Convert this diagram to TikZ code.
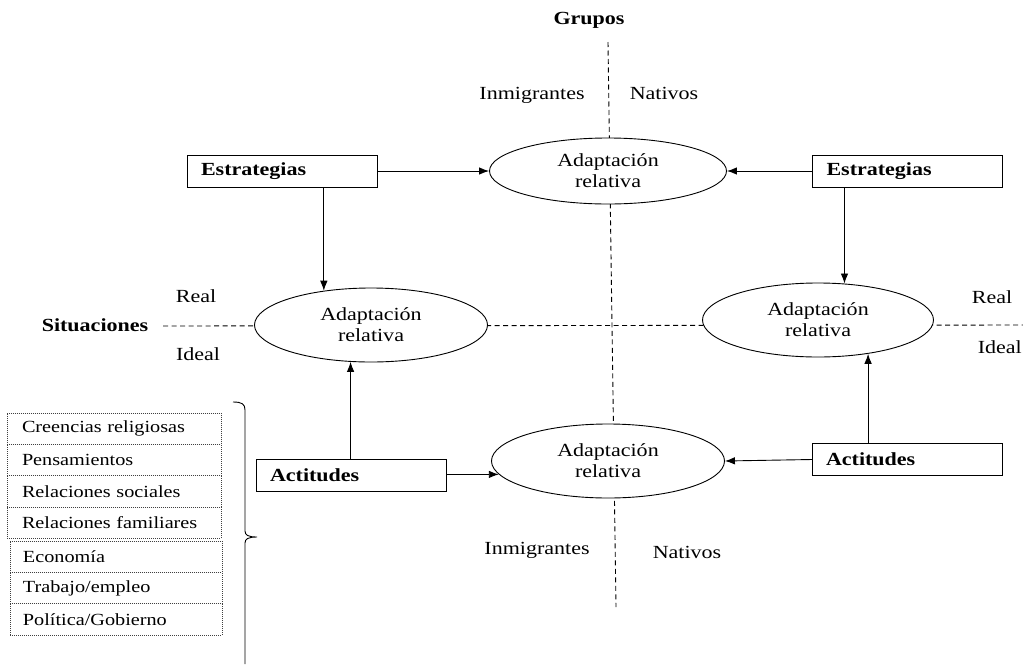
\documentclass[tikz,border=0pt]{standalone}
\usepackage{fontspec}
\setmainfont{Liberation Serif}[FakeStretch=1.19]
\usetikzlibrary{shapes.geometric,arrows.meta}
\begin{document}
\begin{tikzpicture}[x=1pt,y=-1pt,
  every node/.style={font=\fontsize{18.5}{21}\selectfont},
  lbl/.style={inner sep=0pt},
  head/.style={inner sep=0pt,font=\fontsize{18.5}{21}\selectfont\bfseries},
  adapt/.style={ellipse,draw,fill=white,line width=0.9pt,minimum width=233pt,
    minimum height=74pt,inner sep=0pt,align=center},
  box/.style={draw,line width=0.9pt,fill=white,minimum height=32pt,text width=162pt,
    inner xsep=14pt,inner ysep=0pt,outer sep=0pt,align=left,
    font=\fontsize{18.5}{21}\selectfont\bfseries},
  item/.style={draw=black!75,dash pattern=on 1pt off 1pt,line width=0.8pt,
    minimum height=31.3pt,inner ysep=0pt,outer sep=0pt,anchor=north west,
    align=left,font=\fontsize{17}{19}\selectfont},
  itema/.style={item,text width=184pt,inner xsep=15pt},
  itemb/.style={item,text width=186pt,inner xsep=13pt},
  axis/.style={dash pattern=on 5pt off 3.5pt,line width=0.9pt},
  arr/.style={-{Latex[length=10pt,width=7.5pt]},line width=0.9pt}
]
\useasboundingbox (0,0) rectangle (1023,670);

% dashed axes: groups (vertical) and situations (horizontal)
\coordinate (vtop) at (608,42);
\coordinate (vbot) at (616,607);
\coordinate (hleft) at (163,326);
\coordinate (hright) at (1023,325);
\draw[axis] (vtop) -- (vbot);
\draw[axis] (hleft) -- (hright);

% axis labels
\node[head,anchor=base] (grupos) at (589,24) {Grupos};
\node[head,anchor=base] (situ) at (95,331) {Situaciones};
\node[lbl,anchor=base] (inmT) at (532,99) {Inmigrantes};
\node[lbl,anchor=base] (natT) at (664,99) {Nativos};
\node[lbl,anchor=base] (inmB) at (537,554) {Inmigrantes};
\node[lbl,anchor=base] (natB) at (687,558) {Nativos};
\node[lbl,anchor=base] (realL) at (196,302) {Real};
\node[lbl,anchor=base] (idealL) at (198,360) {Ideal};
\node[lbl,anchor=base] (realR) at (992,303) {Real};
\node[lbl,anchor=base east] (idealR) at (1022,353) {Ideal};

% adaptation ellipses
\node[adapt,minimum width=237pt,minimum height=66pt] (adT) at (608,171) {Adaptación\\relativa};
\node[adapt] (adL) at (371,325) {Adaptación\\relativa};
\node[adapt,minimum width=231pt] (adR) at (818,320) {Adaptación\\relativa};
\node[adapt] (adB) at (608,461) {Adaptación\\relativa};

% strategy and attitude boxes
\node[box] (estL) at (282,171) {Estrategias};
\node[box] (estR) at (907.5,171) {Estrategias};
\node[box] (actL) at (351,475) {Actitudes};
\node[box] (actR) at (907,459.5) {Actitudes};

% arrows
\draw[arr] (estL.east) -- (adT.west);
\draw[arr] (estR.west) -- (adT.east);
\draw[arr] (estL.south -| adL.144) -- (adL.144);
\draw[arr] (estR.south -| adR.54) -- (adR.54);
\draw[arr] (actL.north -| adL.241) -- (adL.241);
\draw[arr] (actR.north -| adR.326) -- (adR.326);
\draw[arr] (actL.east |- adB.187) -- (adB.187);
\draw[arr] (actR.west) -- (adB.east);

% list of life domains
\node[itema] (d1) at (7,413) {Creencias religiosas};
\node[itema] (d2) at (d1.south west) {Pensamientos};
\node[itema] (d3) at (d2.south west) {Relaciones sociales};
\node[itema] (d4) at (d3.south west) {Relaciones familiares};
\node[itemb] (d5) at (10,541) {Economía};
\node[itemb] (d6) at (d5.south west) {Trabajo/empleo};
\node[itemb] (d7) at (d6.south west) {Política/Gobierno};

% closing brace grouping the domains
\draw[line width=0.9pt] (233,402) .. controls (242,402) and (245,404) .. (245,410)
  -- (245,531) .. controls (245,535) and (248,537) .. (257,537)
  .. controls (248,537) and (245,539) .. (245,543) -- (245,664);
\end{tikzpicture}
\end{document}
